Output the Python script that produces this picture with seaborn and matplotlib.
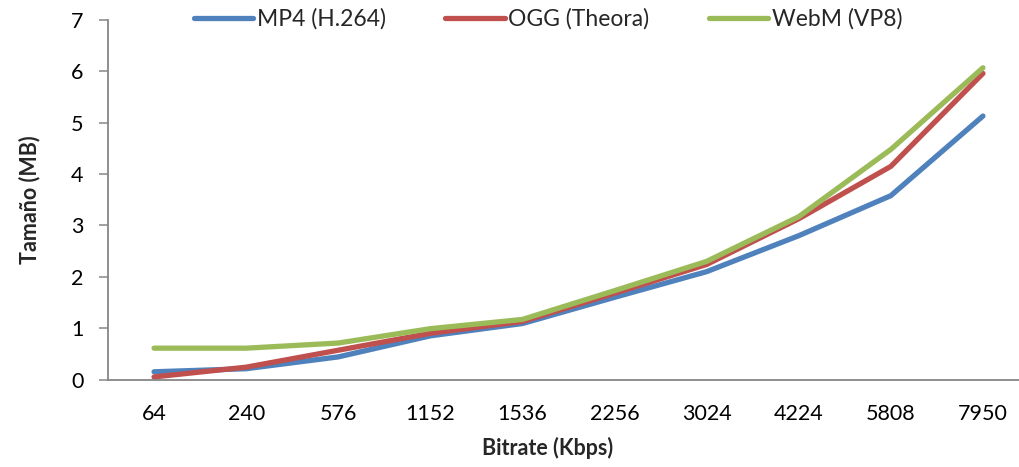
import matplotlib
matplotlib.use("Agg")
import matplotlib.pyplot as plt
import seaborn as sns
import pandas as pd

bitrates = ["64", "240", "576", "1152", "1536", "2256", "3024", "4224", "5808", "7950"]
mp4 = [0.15, 0.21, 0.44, 0.85, 1.09, 1.60, 2.10, 2.80, 3.58, 5.13]
ogg = [0.05, 0.24, 0.57, 0.90, 1.13, 1.68, 2.24, 3.13, 4.15, 5.96]
webm = [0.61, 0.61, 0.71, 0.99, 1.17, 1.73, 2.30, 3.17, 4.48, 6.07]
series_names = ["MP4 (H.264)", "OGG (Theora)", "WebM (VP8)"]
colors = ["#4F81BD", "#C0504D", "#9BBB59"]

rows = []
for name, vals in zip(series_names, [mp4, ogg, webm]):
    for b, v in zip(bitrates, vals):
        rows.append({"Bitrate": b, "Size": v, "Serie": name})
df = pd.DataFrame(rows)

sns.set_theme(style="white")
plt.rcParams["font.family"] = ["Lato", "DejaVu Sans"]

fig = plt.figure(figsize=(10.19, 4.67), dpi=100)
ax = fig.add_axes([108 / 1019, 1 - 379.5 / 467, (1029 - 108) / 1019, (379.5 - 20) / 467])

sns.lineplot(data=df, x="Bitrate", y="Size", hue="Serie", palette=colors,
             sort=False, linewidth=3.8, ax=ax, legend=True)
for ln in ax.lines:
    ln.set_solid_capstyle("round")
    ln.set_solid_joinstyle("round")

ax.set_xlim(-0.5, len(bitrates) - 0.5)
ax.set_ylim(0, 7)
ax.set_yticks(range(0, 8))
ax.set_clip_on(False)

for s in ["top", "right"]:
    ax.spines[s].set_visible(False)
for s in ["left", "bottom"]:
    ax.spines[s].set_color("#868686")
    ax.spines[s].set_linewidth(1.3)

ax.tick_params(axis="y", which="major", left=True, length=6.5, width=1.1,
               color="#868686", labelsize=15.5, labelcolor="black", pad=11)
ax.tick_params(axis="x", bottom=False, labelsize=15.5, labelcolor="black", pad=12)

ax.set_xlabel("Bitrate (Kbps)", fontsize=15.5, fontweight="bold")
ax.set_ylabel("Tamaño (MB)", fontsize=15.5, fontweight="bold")
ax.xaxis.set_label_coords((548 - 108) / (1029 - 108), -0.16)
ax.yaxis.set_label_coords(-(108 - 40) / (1029 - 108), (379.5 - 200) / (379.5 - 20))

handles, labels = ax.get_legend_handles_labels()
for h in handles:
    h.set_linewidth(3.8)
    h.set_solid_capstyle("round")
ax.get_legend().remove()
fig.legend(handles, labels, loc="center", bbox_to_anchor=(548 / 1019, 1 - 19 / 467),
           ncol=3, frameon=False, fontsize=16.5, handlelength=2.6,
           handletextpad=0.15, columnspacing=2.6, borderaxespad=0)

fig.savefig("out.png", dpi=100)
